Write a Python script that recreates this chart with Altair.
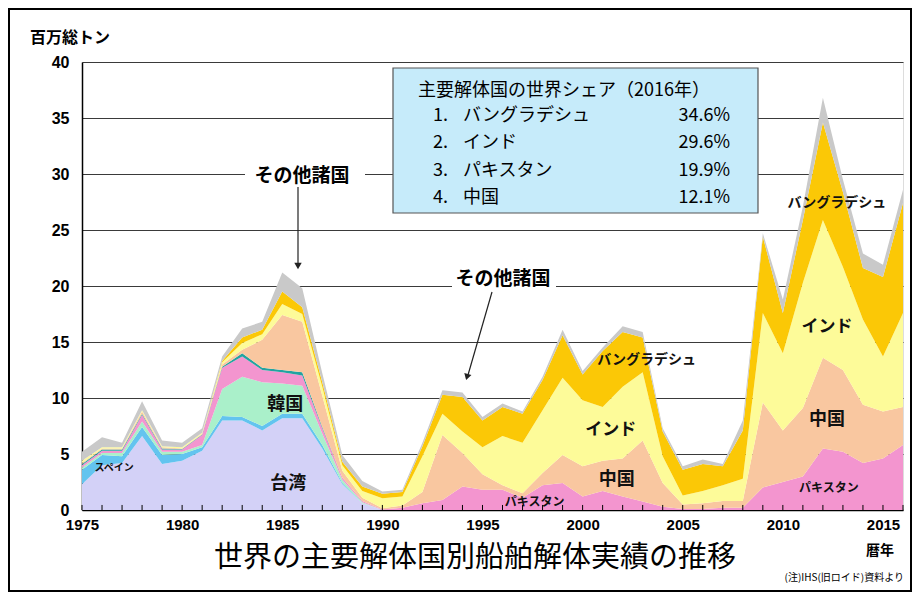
import altair as alt
import pandas as pd

JP = "Noto Sans CJK JP"
EN = "Liberation Sans"

years = list(range(1975, 2017))

# million gross tons, 1975..2016 (stack order bottom -> top)
taiwan = [2.3, 4.0, 4.2, 6.6, 4.1, 4.4, 5.3, 8.0, 8.0, 7.1, 8.2, 8.2, 5.5, 2.3, 0.6,
          0, 0, 0, 0, 0, 0, 0, 0, 0, 0, 0, 0, 0, 0, 0, 0, 0, 0, 0, 0, 0, 0, 0, 0, 0, 0, 0]
spain = [1.3, 0.9, 0.6, 0.8, 0.8, 0.6, 0.3, 0.4, 0.3, 0.4, 0.4, 0.4, 0.3, 0.1, 0,
         0, 0, 0, 0, 0, 0, 0, 0, 0, 0, 0, 0, 0, 0, 0, 0, 0, 0, 0, 0, 0, 0, 0, 0, 0, 0, 0]
korea = [0.2, 0.2, 0.3, 0.5, 0.3, 0.2, 0.2, 2.4, 3.6, 3.9, 2.7, 2.5, 1.0, 0.3, 0.1,
         0, 0, 0, 0, 0, 0, 0, 0, 0, 0, 0, 0, 0, 0, 0, 0, 0, 0, 0, 0, 0, 0, 0, 0, 0, 0, 0]
pakistan = [0.2, 0.2, 0.2, 0.6, 0.2, 0.2, 0.9, 1.9, 1.8, 1.1, 1.0, 0.9, 0.5, 0.2, 0.1,
            0.05, 0.2, 0.6, 0.9, 2.1, 1.8, 1.8, 1.1, 2.2, 2.4, 1.2, 1.7, 1.2, 0.75, 0.3,
            0.1, 0.1, 0.2, 0.2, 2.0, 2.5, 3.0, 5.5, 5.2, 4.2, 4.6, 5.8]
japan = [0.1, 0.1, 0.1, 0.1, 0.1, 0.05, 0.05, 0.1, 0.3, 0.2, 0.2, 0.3, 0.1, 0, 0,
         0, 0, 0, 0, 0, 0, 0, 0, 0, 0, 0, 0, 0, 0, 0, 0, 0, 0, 0, 0, 0, 0, 0, 0, 0, 0, 0]
china = [0.1, 0.1, 0.1, 0.2, 0.1, 0.05, 0.05, 0.2, 0.3, 2.5, 4.9, 4.5, 2.8, 0.6, 0.3,
         0.1, 0.2, 1.0, 5.8, 3.0, 1.4, 0.4, 0.4, 1.1, 2.5, 2.7, 2.7, 3.4, 5.45, 2.1,
         0.4, 0.5, 0.6, 0.6, 7.6, 4.6, 6.1, 8.1, 7.3, 5.2, 4.2, 3.4]
india = [0.2, 0.1, 0.1, 0.1, 0.1, 0.1, 0.1, 0.2, 0.6, 0.5, 1.0, 0.7, 0.8, 0.5, 0.6,
         0.9, 0.8, 3.2, 1.9, 1.9, 2.4, 4.4, 4.5, 5.6, 6.9, 5.9, 4.8, 6.4, 6.1, 2.4,
         0.8, 1.1, 1.4, 2.0, 8.0, 6.9, 11.2, 12.3, 9.2, 7.6, 4.9, 8.4]
bangladesh = [0, 0, 0, 0, 0, 0, 0, 0.1, 0.5, 0.4, 1.1, 0.6, 0.4, 0.3, 0.4,
              0.4, 0.4, 0.9, 1.7, 3.1, 2.4, 2.6, 2.6, 2.7, 3.8, 2.3, 5.0, 4.9, 3.1, 2.2,
              2.3, 2.4, 1.7, 4.3, 6.8, 3.6, 5.6, 8.7, 6.7, 4.6, 7.1, 9.8]
others = [0.8, 0.9, 0.4, 0.8, 0.5, 0.4, 0.4, 0.4, 0.8, 0.7, 1.7, 1.7, 0.8, 0.6, 0.5,
          0.2, 0.2, 0.3, 0.4, 0.4, 0.3, 0.3, 0.2, 0.3, 0.5, 0.3, 0.3, 0.5, 0.5, 0.3,
          0.3, 0.4, 0.2, 0.9, 0.3, 1.2, 1.2, 2.2, 1.1, 1.3, 1.1, 1.2]

series_names = ["台湾", "スペイン", "韓国", "パキスタン", "日本", "中国", "インド", "バングラデシュ", "その他諸国"]
series_values = [taiwan, spain, korea, pakistan, japan, china, india, bangladesh, others]
series_colors = ["#d3d1f7", "#63c4ef", "#aaf0ca", "#f395cf", "#23a3a0", "#f9c7a0", "#fdfb99", "#fbc806", "#c9c9c9"]

year_ticks = [1975, 1980, 1985, 1990, 1995, 2000, 2005, 2010, 2015]
y_ticks = [0, 5, 10, 15, 20, 25, 30, 35, 40]

share_names = ["バングラデシュ", "インド", "パキスタン", "中国"]
share_values = ["34.6%", "29.6%", "19.9%", "12.1%"]

# labels placed in data coordinates
label_text = ["スペイン", "韓国", "台湾", "パキスタン", "中国", "インド", "バングラデシュ",
              "バングラデシュ", "インド", "中国", "パキスタン"]
label_year = [1976.6, 1985.15, 1985.3, 1997.6, 2001.7, 2001.4, 2003.2,
              2012.7, 2012.2, 2012.2, 2012.3]
label_value = [3.75, 9.4, 2.3, 0.7, 2.7, 7.1, 13.4, 27.4, 16.3, 8.0, 1.95]
label_size = [10, 18, 18, 12, 18, 17, 14, 14, 17, 18, 12]

rows = []
for i, (name, vals) in enumerate(zip(series_names, series_values)):
    for yr, v in zip(years, vals):
        rows.append({"year": yr, "series": name, "value": v, "order": i})
df = pd.DataFrame(rows)

x_scale = alt.Scale(domain=[1975, 2016], nice=False, zero=False)
y_scale = alt.Scale(domain=[0, 40], nice=False)

area = alt.Chart(df).mark_area(interpolate="linear").encode(
    x=alt.X("year:Q", scale=x_scale,
            axis=alt.Axis(values=year_ticks, format="d", title=None, grid=False, ticks=False,
                          labelFont=EN, labelFontSize=15, labelFontWeight="bold", labelColor="black",
                          domainColor="black", domainWidth=1.5, labelPadding=7, labelFlush=False)),
    y=alt.Y("value:Q", stack="zero", scale=y_scale,
            axis=alt.Axis(values=y_ticks, title=None, grid=True, gridColor="#3a3a3a", gridWidth=1,
                          ticks=False, labelFont=EN, labelFontSize=16, labelFontWeight="bold",
                          labelColor="black", domainColor="black", domainWidth=1.5, labelPadding=13)),
    color=alt.Color("series:N", scale=alt.Scale(domain=series_names, range=series_colors), legend=None),
    order=alt.Order("order:Q", sort="ascending"),
)

tick_df = pd.DataFrame({"year": years, "y0": [0] * len(years), "y1": [0.45] * len(years)})
ticks = alt.Chart(tick_df).mark_rule(color="black", strokeWidth=1).encode(
    x=alt.X("year:Q", scale=x_scale, title=None),
    y=alt.Y("y0:Q", scale=y_scale, title=None),
    y2="y1:Q",
)

lab_df = pd.DataFrame({"t": label_text, "year": label_year, "v": label_value, "s": label_size})
labels = alt.Chart(lab_df).mark_text(font=JP, fontWeight="bold", color="#111", align="center",
                                      baseline="middle").encode(
    x=alt.X("year:Q", scale=x_scale, title=None),
    y=alt.Y("v:Q", scale=y_scale, title=None),
    text="t:N",
    size=alt.Size("s:Q", scale=None, legend=None),
)

one = pd.DataFrame({"a": [0]})


def txt(s, x, y, size, weight="normal", align="center", font=JP, color="black", baseline="middle"):
    return alt.Chart(one).mark_text(text=s, fontSize=size, fontWeight=weight, align=align,
                                    baseline=baseline, font=font, color=color).encode(
        x=alt.value(x), y=alt.value(y))


def rect(x, x2, y, y2, fill, stroke=None, sw=0):
    kw = dict(fill=fill, strokeWidth=sw)
    if stroke:
        kw["stroke"] = stroke
    return alt.Chart(one).mark_rect(**kw).encode(
        x=alt.value(x), x2=alt.value(x2), y=alt.value(y), y2=alt.value(y2))


def line(x, y, x2, y2):
    return alt.Chart(one).mark_rule(color="#222", strokeWidth=1.2).encode(
        x=alt.value(x), x2=alt.value(x2), y=alt.value(y), y2=alt.value(y2))


def head(x, y, angle):
    return alt.Chart(one).mark_point(shape="triangle-down", filled=True, size=55, color="#222",
                                     opacity=1, angle=angle).encode(x=alt.value(x), y=alt.value(y))


layers = [area, ticks, labels]

# "その他諸国" callouts
layers += [rect(163, 283, 104, 124, "white"), txt("その他諸国", 220, 114, 19, "bold")]
layers += [line(216, 125, 216, 205), head(216, 204, 0)]
layers += [rect(370, 474, 207, 228, "white"), txt("その他諸国", 421, 217, 19, "bold")]
layers += [line(410, 230, 386, 313), head(385, 315, 16)]

# share box
layers += [rect(311, 676, 6, 151, "#c6ebfa", "#555", 1.2)]
layers += [txt("主要解体国の世界シェア（2016年）", 336, 29, 18, align="left")]
for i, (n, p) in enumerate(zip(share_names, share_values)):
    yy = 54 + i * 27.3
    layers += [txt(f"{i + 1}.", 351, yy, 18, align="left"),
               txt(n, 381, yy, 18, align="left"),
               txt(p, 648, yy, 18, align="right")]

# outer texts
layers += [txt("百万総トン", -52, -24, 16, "bold", align="left")]
layers += [txt("世界の主要解体国別船舶解体実績の推移", 393, 496, 29)]
layers += [txt("暦年", 798, 489, 14, "bold")]
layers += [txt("(注)IHS(旧ロイド)資料より", 822, 516, 10, align="right")]

# outer frame
layers += [alt.Chart(one).mark_rect(fill=None, stroke="black", strokeWidth=2).encode(
    x=alt.value(-73), x2=alt.value(829), y=alt.value(-53), y2=alt.value(529))]

chart = alt.layer(*layers).properties(
    width=821, height=448,
    autosize=alt.AutoSizeParams(type="none"),
    padding={"left": 74, "top": 54, "right": 10, "bottom": 83},
).configure_view(stroke="#555", strokeWidth=1).configure(background="white")

chart.save("out.html", embed_options={"renderer": "svg", "actions": False})
